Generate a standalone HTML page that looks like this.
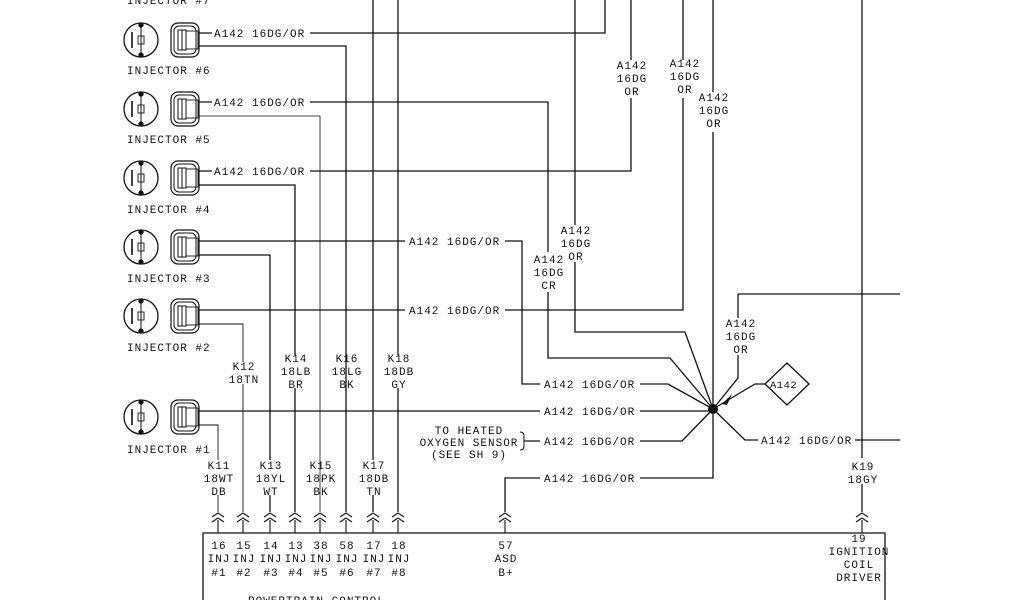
<!DOCTYPE html>
<html><head><meta charset="utf-8"><style>
html,body{margin:0;padding:0;background:#fff;width:1024px;height:600px;overflow:hidden}
svg text{font-family:"Liberation Mono",monospace;font-size:11px;letter-spacing:1px;fill:#111}
</style></head><body>
<svg width="1024" height="600" viewBox="0 0 1024 600" xmlns="http://www.w3.org/2000/svg">
<defs>
<g id="inj">
<circle cx="0" cy="0" r="17" fill="none" stroke="#111" stroke-width="1.3"/>
<line x1="-9" y1="-8" x2="-9" y2="8" stroke="#111" stroke-width="1.6"/>
<line x1="0" y1="-15" x2="0" y2="15" stroke="#111" stroke-width="1"/>
<rect x="-3" y="-4" width="6" height="8" fill="none" stroke="#111" stroke-width="0.9"/>
<circle cx="0" cy="-15" r="2" fill="#111"/><circle cx="0" cy="15" r="2" fill="#111"/>
<rect x="30" y="-17" width="28" height="34" rx="7" fill="none" stroke="#111" stroke-width="1.2"/>
<rect x="33" y="-14" width="22" height="28" rx="5" fill="none" stroke="#111" stroke-width="1"/>
<rect x="37" y="-10" width="8" height="20" fill="none" stroke="#111" stroke-width="1"/>
<line x1="41" y1="-10" x2="41" y2="10" stroke="#111" stroke-width="1"/>
<rect x="45" y="-9" width="12" height="18" fill="none" stroke="#111" stroke-width="0.9"/>
</g>
<g id="chev"><path d="M-6,-2 L0,-6 L6,-2 M-6,3 L0,-1 L6,3" fill="none" stroke="#111" stroke-width="1.1"/></g>
</defs>
<g stroke="#111" stroke-width="1.3" fill="none">
<use href="#inj" x="141" y="40"/><use href="#inj" x="141" y="109"/><use href="#inj" x="141" y="178"/>
<use href="#inj" x="141" y="247"/><use href="#inj" x="141" y="316"/><use href="#inj" x="141" y="417"/>
<path d="M198,33 H212 M310,33 H605 V0"/>
<path d="M198,46 H346 V512"/>
<path d="M198,102 H212 M310,102 H548 V252 M548,292 V358 H670 L713,409"/>
<path d="M198,116 H320 V512" stroke-width="0.8"/>
<path d="M198,171 H212 M310,171 H631 V98 M631,60 V0"/>
<path d="M198,185 H295 V355 M295,388 V512"/>
<path d="M198,241 H405 M505,241 H522 V384 H540 M640,384 H668 L713,409"/>
<path d="M198,255 H270 V460 M270,495 V512"/>
<path d="M198,310 H405 M505,310 H683 V98 M683,60 V0"/>
<path d="M198,324 H243 V362 M243,384 V512" stroke-width="0.9"/>
<path d="M198,411 H540 M640,411 H713"/>
<path d="M198,425 H218 V460 M218,495 V512" stroke-width="0.9"/>
<path d="M373,0 V460 M373,495 V512"/>
<path d="M398,0 V355 M398,388 V512"/>
<path d="M575,0 V225 M575,262 V332 H685 L713,409"/>
<path d="M713,0 V92 M713,132 V478 H640 M540,478 H505 V512"/>
<path d="M862,0 V458 M862,484 V512"/>
<path d="M738,294 H900 M738,294 V318 M738,355 V378 L713,409"/>
<path d="M765,384 H755 L713,409"/>
<path d="M713,409 L745,440 H758 M855,440 H900"/>
<path d="M713,409 L682,441 H640 M540,441 H524"/>
<path d="M520,432 Q524,432 524,436 V441 M520,450 Q524,450 524,446 V441" stroke-width="1"/>
<path d="M787,363 L809,384 L787,405 L765,384 Z"/>
<path d="M203,600 V533 H885 V600"/>
</g>
<circle cx="713" cy="409" r="5" fill="#111"/>
<path d="M722,404 L732,394 L727,405 Z" fill="#111"/>
<g>
<use href="#chev" x="218" y="519"/><use href="#chev" x="243" y="519"/><use href="#chev" x="270" y="519"/><use href="#chev" x="295" y="519"/>
<use href="#chev" x="320" y="519"/><use href="#chev" x="346" y="519"/><use href="#chev" x="373" y="519"/><use href="#chev" x="398" y="519"/>
<use href="#chev" x="505" y="519"/><use href="#chev" x="862" y="519"/>
</g>
<g stroke="#111" stroke-width="1.1">
<line x1="218" y1="520" x2="218" y2="533"/><line x1="243" y1="520" x2="243" y2="533"/><line x1="270" y1="520" x2="270" y2="533"/><line x1="295" y1="520" x2="295" y2="533"/>
<line x1="320" y1="520" x2="320" y2="533"/><line x1="346" y1="520" x2="346" y2="533"/><line x1="373" y1="520" x2="373" y2="533"/><line x1="398" y1="520" x2="398" y2="533"/>
<line x1="505" y1="520" x2="505" y2="533"/><line x1="862" y1="520" x2="862" y2="533"/>
</g>
<g>
<text x="127" y="4">INJECTOR #7</text>
<text x="127" y="74">INJECTOR #6</text>
<text x="127" y="143">INJECTOR #5</text>
<text x="127" y="213">INJECTOR #4</text>
<text x="127" y="282">INJECTOR #3</text>
<text x="127" y="351">INJECTOR #2</text>
<text x="127" y="453">INJECTOR #1</text>
<text x="214" y="37">A142 16DG/OR</text>
<text x="214" y="106">A142 16DG/OR</text>
<text x="214" y="175">A142 16DG/OR</text>
<text x="409" y="245">A142 16DG/OR</text>
<text x="409" y="314">A142 16DG/OR</text>
<text x="544" y="388">A142 16DG/OR</text>
<text x="544" y="415">A142 16DG/OR</text>
<text x="544" y="445">A142 16DG/OR</text>
<text x="544" y="482">A142 16DG/OR</text>
<text x="761" y="444">A142 16DG/OR</text>
<text x="770" y="388" style="font-size:10.5px;letter-spacing:0.5px">A142</text>
</g>
<g text-anchor="middle">
<text x="632" y="69">A142</text><text x="632" y="82">16DG</text><text x="632" y="95">OR</text>
<text x="685" y="67">A142</text><text x="685" y="80">16DG</text><text x="685" y="93">OR</text>
<text x="714" y="101">A142</text><text x="714" y="114">16DG</text><text x="714" y="127">OR</text>
<text x="576" y="234">A142</text><text x="576" y="247">16DG</text><text x="576" y="260">OR</text>
<text x="549" y="263">A142</text><text x="549" y="276">16DG</text><text x="549" y="289">CR</text>
<text x="741" y="327">A142</text><text x="741" y="340">16DG</text><text x="741" y="353">OR</text>
<text x="469" y="434">TO HEATED</text><text x="469" y="446">OXYGEN SENSOR</text><text x="469" y="458">(SEE SH 9)</text>
<text x="244" y="370">K12</text><text x="244" y="383">18TN</text>
<text x="296" y="362">K14</text><text x="296" y="375">18LB</text><text x="296" y="388">BR</text>
<text x="347" y="362">K16</text><text x="347" y="375">18LG</text><text x="347" y="388">BK</text>
<text x="399" y="362">K18</text><text x="399" y="375">18DB</text><text x="399" y="388">GY</text>
<text x="219" y="469">K11</text><text x="219" y="482">18WT</text><text x="219" y="495">DB</text>
<text x="271" y="469">K13</text><text x="271" y="482">18YL</text><text x="271" y="495">WT</text>
<text x="321" y="469">K15</text><text x="321" y="482">18PK</text><text x="321" y="495">BK</text>
<text x="374" y="469">K17</text><text x="374" y="482">18DB</text><text x="374" y="495">TN</text>
<text x="863" y="470">K19</text><text x="863" y="483">18GY</text>
<text x="219" y="549">16</text><text x="219" y="562">INJ</text><text x="219" y="576">#1</text>
<text x="244" y="549">15</text><text x="244" y="562">INJ</text><text x="244" y="576">#2</text>
<text x="271" y="549">14</text><text x="271" y="562">INJ</text><text x="271" y="576">#3</text>
<text x="296" y="549">13</text><text x="296" y="562">INJ</text><text x="296" y="576">#4</text>
<text x="321" y="549">38</text><text x="321" y="562">INJ</text><text x="321" y="576">#5</text>
<text x="347" y="549">58</text><text x="347" y="562">INJ</text><text x="347" y="576">#6</text>
<text x="374" y="549">17</text><text x="374" y="562">INJ</text><text x="374" y="576">#7</text>
<text x="399" y="549">18</text><text x="399" y="562">INJ</text><text x="399" y="576">#8</text>
<text x="506" y="549">57</text><text x="506" y="562">ASD</text><text x="506" y="576">B+</text>
<text x="859" y="542">19</text><text x="859" y="555">IGNITION</text><text x="859" y="568">COIL</text><text x="859" y="581">DRIVER</text>
</g>
<text x="248" y="604">POWERTRAIN CONTROL</text>
</svg>
</body></html>
